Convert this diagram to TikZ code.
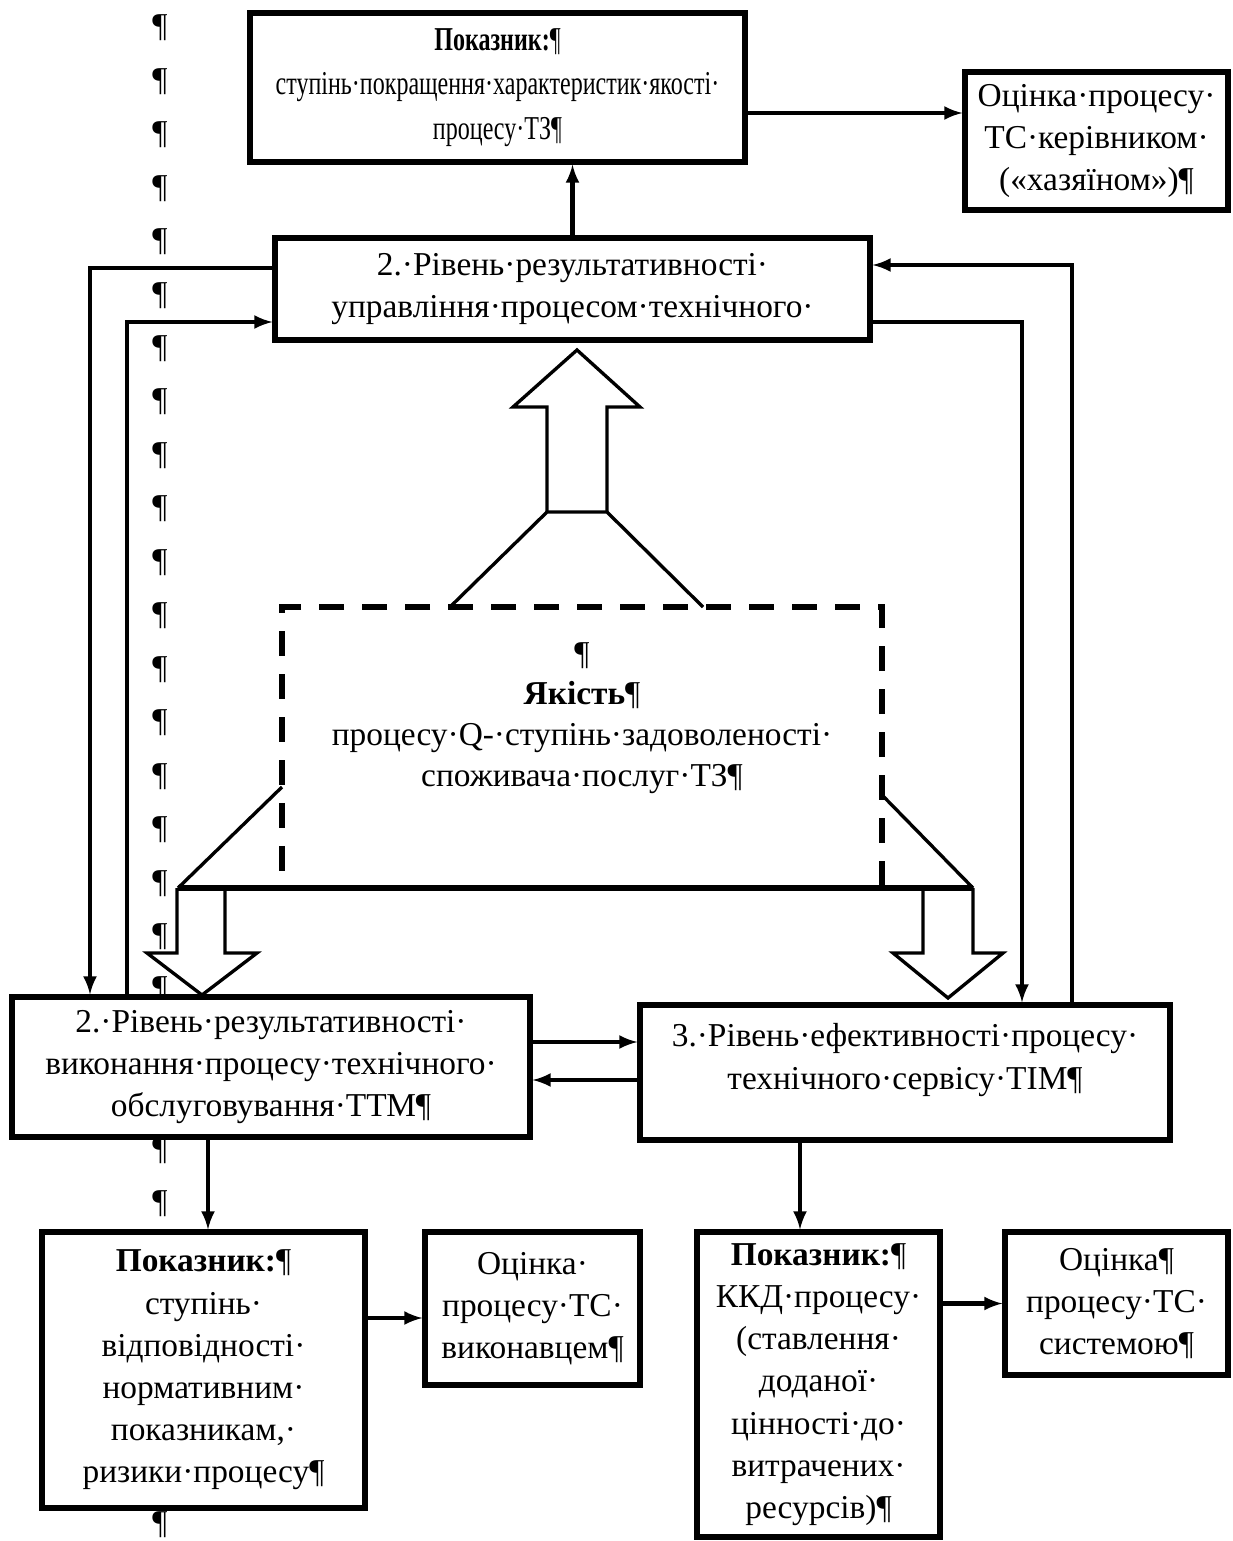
\documentclass[tikz,border=0pt]{standalone}
\usepackage{fontspec}
\setmainfont{Liberation Serif}
\newfontfamily\narrowfont{Liberation Serif}[FakeStretch=0.72]
\usepackage{tikz}
\usetikzlibrary{positioning,shapes,arrows,calc}

\begin{document}
\begin{tikzpicture}[x=0.02cm, y=-0.02cm,
  box/.style={draw, line width=3pt, fill=white, align=center, inner sep=0pt,
    font=\fontsize{19}{24}\selectfont},
  qbox/.style={draw, line width=3pt, dash pattern=on 0.5cm off 0.36cm},
  arr/.style={-latex, line width=2.5pt},
  hollow/.style={line width=1.9pt, line join=miter}]

\useasboundingbox (0,0) rectangle (1232,1541);

\foreach \k in {0,...,18,21,22,28}
  \node[font=\fontsize{19}{24}\selectfont] (pm\k) at (160, 28+53.45*\k) {¶};

\node[box, minimum width=9.9cm, minimum height=2.98cm, font=\narrowfont\fontsize{19}{25.5}\selectfont] (pokTop) at (497.5,87.5)
  {\textbf{Показник:}¶\\ступінь·покращення·характеристик·якості·\\процесу·ТЗ¶};
\node[box, minimum width=5.26cm, minimum height=2.76cm] (ocinKer) at (1096.5,141)
  {Оцінка·процесу·\\ТС·керівником·\\(«хазяїном»)¶};
\node[box, minimum width=11.9cm, minimum height=2.04cm] (rivUpr) at (572.5,289)
  {2.·Рівень·результативності·\\управління·процесом·технічного·};

\node[qbox, minimum width=12cm, minimum height=5.62cm] (qual) at (582,747.5) {};
\node[align=center, font=\fontsize{19}{23.2}\selectfont] (qualTxt) at (582,718)
  {¶\\\textbf{Якість}¶\\процесу·Q-·ступінь·задоволеності·\\споживача·послуг·ТЗ¶};

\node[box, minimum width=10.36cm, minimum height=2.8cm] (rivVyk) at (271,1067)
  {2.·Рівень·результативності·\\виконання·процесу·технічного·\\обслуговування·ТТМ¶};
\node[box, minimum width=10.6cm, minimum height=2.7cm] (rivEf) at (905,1072.5) {};
\node[align=center, font=\fontsize{19}{24}\selectfont] (rivEfTxt) at (905,1060)
  {3.·Рівень·ефективності·процесу·\\технічного·сервісу·ТІМ¶};

\node[box, minimum width=6.46cm, minimum height=5.52cm] (pokVyk) at (203.5,1370)
  {\textbf{Показник:}¶\\ступінь·\\відповідності·\\нормативним·\\показникам,·\\ризики·процесу¶};
\node[box, minimum width=4.3cm, minimum height=3.06cm] (ocinVyk) at (532.5,1308.5)
  {Оцінка·\\процесу·ТС·\\виконавцем¶};
\node[box, minimum width=4.86cm, minimum height=6.1cm] (pokKKD) at (818.5,1384.5)
  {\textbf{Показник:}¶\\ККД·процесу·\\(ставлення·\\доданої·\\цінності·до·\\витрачених·\\ресурсів)¶};
\node[box, minimum width=4.46cm, minimum height=2.86cm] (ocinSys) at (1116.5,1303.5)
  {Оцінка¶\\процесу·ТС·\\системою¶};

\coordinate (kerY) at (0,113);
\coordinate (loopA) at (90,268);
\coordinate (loopB) at (127,322);
\coordinate (loopC) at (1072,265);
\coordinate (loopD) at (1022,322);
\coordinate (midA) at (0,1042);
\coordinate (midB) at (0,1080);
\coordinate (downL) at (208,0);
\coordinate (downR) at (800,0);
\coordinate (vykY) at (0,1318);

\draw[arr] (rivUpr.north) -- (rivUpr.north |- pokTop.south);
\draw[arr] (pokTop.east |- kerY) -- (ocinKer.west |- kerY);
\draw[arr] (rivUpr.west |- loopA) -| (rivVyk.north -| loopA);
\draw[arr] (rivVyk.north -| loopB) |- (rivUpr.west |- loopB);
\draw[arr] (rivEf.north -| loopC) |- (rivUpr.east |- loopC);
\draw[arr] (rivUpr.east |- loopD) -| (rivEf.north -| loopD);
\draw[arr] (rivVyk.east |- midA) -- (rivEf.west |- midA);
\draw[arr] (rivEf.west |- midB) -- (rivVyk.east |- midB);
\draw[arr] (rivVyk.south -| downL) -- (pokVyk.north -| downL);
\draw[arr] (rivEf.south -| downR) -- (pokKKD.north -| downR);
\draw[arr] (pokVyk.east |- vykY) -- (ocinVyk.west |- vykY);
\draw[arr] (pokKKD.east |- ocinSys.west) -- (ocinSys.west);

\draw[hollow] (450,607) -- (547,512) -- (607,512) -- (703,607);
\draw[hollow] (547,512) -- (547,407) -- (513,407) -- (577,350) -- (640,407) -- (607,407) -- (607,512);
\draw[hollow] (282,787) -- (178,888);
\draw[hollow] (882,795) -- (973,888);
\draw[line width=3pt] (178,888) -- (973,888);
\draw[hollow] (177,888) -- (177,953) -- (147,953) -- (202,995) -- (257,953) -- (225,953) -- (225,888);
\draw[hollow] (923,888) -- (923,953) -- (893,953) -- (948,998) -- (1003,953) -- (973,953) -- (973,888);

\end{tikzpicture}
\end{document}
